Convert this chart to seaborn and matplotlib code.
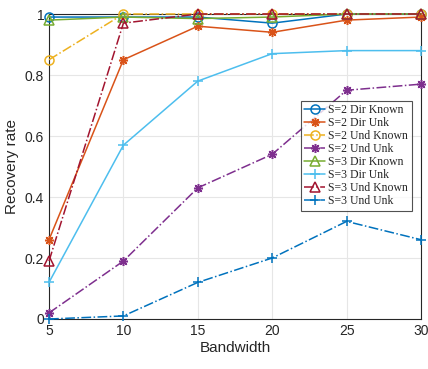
import matplotlib
matplotlib.use("Agg")
import matplotlib.pyplot as plt
import seaborn as sns
import pandas as pd

bandwidth = [5, 10, 15, 20, 25, 30]

s2_dir_known = [0.99, 0.99, 0.99, 0.97, 1.00, 1.00]
s2_dir_unk = [0.26, 0.85, 0.96, 0.94, 0.98, 0.99]
s2_und_known = [0.85, 1.00, 1.00, 1.00, 1.00, 1.00]
s2_und_unk = [0.02, 0.19, 0.43, 0.54, 0.75, 0.77]
s3_dir_known = [0.98, 0.99, 0.985, 0.99, 1.00, 1.00]
s3_dir_unk = [0.12, 0.57, 0.78, 0.87, 0.88, 0.88]
s3_und_known = [0.19, 0.97, 1.00, 1.00, 1.00, 1.00]
s3_und_unk = [0.00, 0.01, 0.12, 0.20, 0.32, 0.26]

labels = ["S=2 Dir Known", "S=2 Dir Unk", "S=2 Und Known", "S=2 Und Unk",
          "S=3 Dir Known", "S=3 Dir Unk", "S=3 Und Known", "S=3 Und Unk"]
series = [s2_dir_known, s2_dir_unk, s2_und_known, s2_und_unk,
          s3_dir_known, s3_dir_unk, s3_und_known, s3_und_unk]

colors = ["#0072BD", "#D95319", "#EDB120", "#7E2F8E",
          "#77AC30", "#4DBEEE", "#A2142F", "#0072BD"]
asterisk = (8, 2, 0)
markers = ["o", asterisk, "o", asterisk, "^", "+", "^", "+"]
styles = ["-", "-", "-.", "-.", "-", "-", "-.", "-."]

rows = []
for lab, vals in zip(labels, series):
    for b, v in zip(bandwidth, vals):
        rows.append({"Bandwidth": b, "Recovery rate": v, "Series": lab})
df = pd.DataFrame(rows)

sns.set_style("whitegrid")
plt.rcParams["font.family"] = ["Liberation Sans", "DejaVu Sans"]

fig = plt.figure(figsize=(4.28, 3.69), dpi=100)
ax = fig.add_axes([49 / 428, 1 - 319 / 369, (421 - 49) / 428, (319 - 14) / 369])

for lab, c, m, ls in zip(labels, colors, markers, styles):
    sub = df[df["Series"] == lab]
    sns.lineplot(data=sub, x="Bandwidth", y="Recovery rate", ax=ax, color=c,
                 marker=m, linestyle=ls, linewidth=1.1, markersize=6.5,
                 markerfacecolor="none", markeredgecolor=c, markeredgewidth=1.1,
                 label=lab, clip_on=False, zorder=3)

ax.set_xlim(5, 30)
ax.set_ylim(0, 1)
ax.set_xticks(bandwidth)
ax.set_yticks([0, 0.2, 0.4, 0.6, 0.8, 1.0])
ax.set_yticklabels(["0", "0.2", "0.4", "0.6", "0.8", "1"])
ax.tick_params(labelsize=10, colors="#262626", length=3, direction="in")
ax.set_xlabel("Bandwidth", fontsize=11, color="#262626", labelpad=2)
ax.set_ylabel("Recovery rate", fontsize=11, color="#262626", labelpad=4)
ax.grid(True, color="#e6e6e6", linewidth=0.8)
ax.set_axisbelow(True)
for sp in ax.spines.values():
    sp.set_color("#262626")
    sp.set_linewidth(0.8)

leg = ax.legend(loc="upper right", bbox_to_anchor=(0.975, 0.715),
                prop={"family": "Liberation Serif", "size": 8.5},
                frameon=True, fancybox=False, edgecolor="#262626",
                handlelength=1.8, handletextpad=0.25, labelspacing=0.08,
                borderpad=0.3, borderaxespad=0)
leg.get_frame().set_linewidth(0.8)
leg.set_zorder(5)

fig.savefig("out.png", dpi=100)
